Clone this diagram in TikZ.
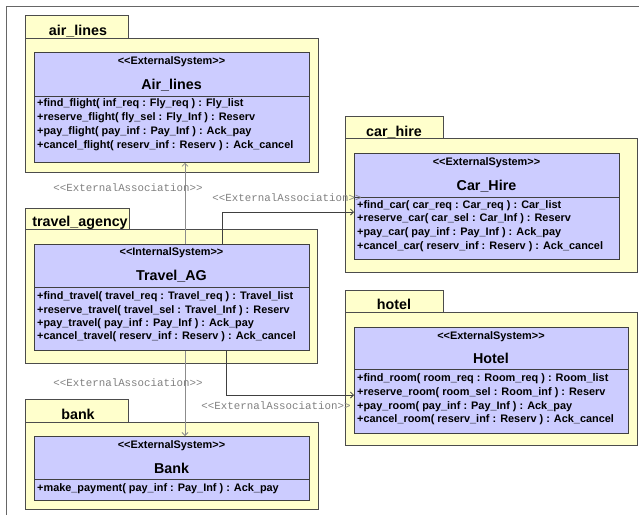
\documentclass[tikz,border=0pt]{standalone}
\usepackage{fontspec}
\setmainfont{Liberation Sans}
\setmonofont{Liberation Mono}
\usepackage{xcolor}
\usetikzlibrary{arrows.meta}

\definecolor{pkgfill}{HTML}{FFFFCC}
\definecolor{clsfill}{HTML}{CCCCFF}
\newcommand{\stOpen}{<\kern0pt<}
\newcommand{\stClose}{>\kern0pt>}

\begin{document}
\begin{tikzpicture}[x=1pt,y=-1pt,
    pkg/.style={draw=black!70, fill=pkgfill, line width=0.8pt},
    cls/.style={draw=black!75, fill=clsfill, line width=0.8pt, anchor=north west, inner sep=0pt},
    sepline/.style={draw=black!75, line width=0.8pt},
    pkgname/.style={font=\fontsize{14.3}{16}\selectfont\bfseries, anchor=base, inner sep=0pt},
    stereo/.style={font=\fontsize{10.9}{13}\selectfont\bfseries, inner sep=0pt},
    clsname/.style={font=\fontsize{14.3}{16}\selectfont\bfseries, inner sep=0pt},
    oper/.style={font=\fontsize{10.9}{13}\selectfont\bfseries, anchor=mid west, inner sep=0pt},
    assoclbl/.style={font=\fontsize{10.8}{12}\selectfont\ttfamily, text=black!50, inner sep=0pt},
    assocup/.style={draw=black!45, line width=0.8pt, -{Straight Barb[length=3pt,width=6pt]}},
    assocel/.style={draw=black!75, line width=0.8pt, -{Straight Barb[length=3pt,width=6pt]}}]
    \useasboundingbox (0,0) rectangle (639,515);
    \draw[black!60, line width=1pt] (6,515) -- (6,6) -- (639,6);

    % air_lines
    \draw[pkg] (25,15) rectangle (128,38);
    \draw[pkg] (25,38) rectangle (318,172);
    \node[pkgname] (airPkg) at (78,35) {air\_lines};
    \node[cls, minimum width=275pt, minimum height=110pt] (airCls) at (34,52) {};
    \draw[sepline] (34,96) -- (309,96);
    \node[stereo] (airSt) at (171.5,62) {\stOpen ExternalSystem\stClose};
    \node[clsname] (airName) at (171.5,85) {Air\_lines};
    \node[oper] (airOp1) at (37,104) {+find\_flight( inf\_req : Fly\_req ) : Fly\_list};
    \node[oper] (airOp2) at (37,118) {+reserve\_flight( fly\_sel : Fly\_Inf ) : Reserv};
    \node[oper] (airOp3) at (37,132) {+pay\_flight( pay\_inf : Pay\_Inf ) : Ack\_pay};
    \node[oper] (airOp4) at (37,146) {+cancel\_flight( reserv\_inf : Reserv ) : Ack\_cancel};

    % travel_agency
    \draw[pkg] (25,208) rectangle (129,229);
    \draw[pkg] (25,229) rectangle (317,363);
    \node[pkgname] (travelPkg) at (80,226.5) {travel\_agency};
    \node[cls, minimum width=275pt, minimum height=106pt] (travelCls) at (34,244) {};
    \draw[sepline] (34,287) -- (309,287);
    \node[stereo] (travelSt) at (171.5,253) {\stOpen InternalSystem\stClose};
    \node[clsname] (travelName) at (171.5,276) {Travel\_AG};
    \node[oper] (travelOp1) at (37,297) {+find\_travel( travel\_req : Travel\_req ) : Travel\_list};
    \node[oper] (travelOp2) at (37,311) {+reserve\_travel( travel\_sel : Travel\_Inf ) : Reserv};
    \node[oper] (travelOp3) at (37,324) {+pay\_travel( pay\_inf : Pay\_Inf ) : Ack\_pay};
    \node[oper] (travelOp4) at (37,337) {+cancel\_travel( reserv\_inf : Reserv ) : Ack\_cancel};

    % bank
    \draw[pkg] (25,399) rectangle (128,422);
    \draw[pkg] (25,422) rectangle (318,509);
    \node[pkgname] (bankPkg) at (78,419) {bank};
    \node[cls, minimum width=275pt, minimum height=64pt] (bankCls) at (34,436) {};
    \draw[sepline] (34,479) -- (309,479);
    \node[stereo] (bankSt) at (171.5,446) {\stOpen ExternalSystem\stClose};
    \node[clsname] (bankName) at (171.5,468) {Bank};
    \node[oper] (bankOp1) at (37,489) {+make\_payment( pay\_inf : Pay\_Inf ) : Ack\_pay};

    % car_hire
    \draw[pkg] (345,116) rectangle (443,138);
    \draw[pkg] (345,138) rectangle (637,272);
    \node[pkgname] (carPkg) at (394,136) {car\_hire};
    \node[cls, minimum width=265pt, minimum height=106pt] (carCls) at (354,153) {};
    \draw[sepline] (354,197) -- (619,197);
    \node[stereo] (carSt) at (486.5,163) {\stOpen ExternalSystem\stClose};
    \node[clsname] (carName) at (486.5,186) {Car\_Hire};
    \node[oper] (carOp1) at (357,206) {+find\_car( car\_req : Car\_req ) : Car\_list};
    \node[oper] (carOp2) at (357,219) {+reserve\_car( car\_sel : Car\_Inf ) : Reserv};
    \node[oper] (carOp3) at (357,233) {+pay\_car( pay\_inf : Pay\_Inf ) : Ack\_pay};
    \node[oper] (carOp4) at (357,247) {+cancel\_car( reserv\_inf : Reserv ) : Ack\_cancel};

    % hotel
    \draw[pkg] (345,290) rectangle (443,312);
    \draw[pkg] (345,312) rectangle (637,445);
    \node[pkgname] (hotelPkg) at (394,309.5) {hotel};
    \node[cls, minimum width=274pt, minimum height=106pt] (hotelCls) at (354,327) {};
    \draw[sepline] (354,369) -- (628,369);
    \node[stereo] (hotelSt) at (491,337) {\stOpen ExternalSystem\stClose};
    \node[clsname] (hotelName) at (491,358) {Hotel};
    \node[oper] (hotelOp1) at (357,379) {+find\_room( room\_req : Room\_req ) : Room\_list};
    \node[oper] (hotelOp2) at (357,393) {+reserve\_room( room\_sel : Room\_inf ) : Reserv};
    \node[oper] (hotelOp3) at (357,407) {+pay\_room( pay\_inf : Pay\_Inf ) : Ack\_pay};
    \node[oper] (hotelOp4) at (357,420) {+cancel\_room( reserv\_inf : Reserv ) : Ack\_cancel};

    % associations
    \draw[assocup] ([xshift=151pt]travelCls.north west) -- ([xshift=151pt]airCls.south west);
    \draw[assocup] ([xshift=151pt]travelCls.south west) -- ([xshift=151pt]bankCls.north west);
    \draw[assocel] ([xshift=188pt]travelCls.north west) |- ([yshift=-59pt]carCls.north west);
    \draw[assocel] ([xshift=192pt]travelCls.south west) |- ([yshift=-68pt]hotelCls.north west);
    \node[assoclbl] (airLbl) at (128,188) {\stOpen ExternalAssociation\stClose};
    \node[assoclbl] (carLbl) at (287,198) {\stOpen ExternalAssociation\stClose};
    \node[assoclbl] (bankLbl) at (128,383) {\stOpen ExternalAssociation\stClose};
    \node[assoclbl] (hotelLbl) at (276,406) {\stOpen ExternalAssociation\stClose};
\end{tikzpicture}
\end{document}
